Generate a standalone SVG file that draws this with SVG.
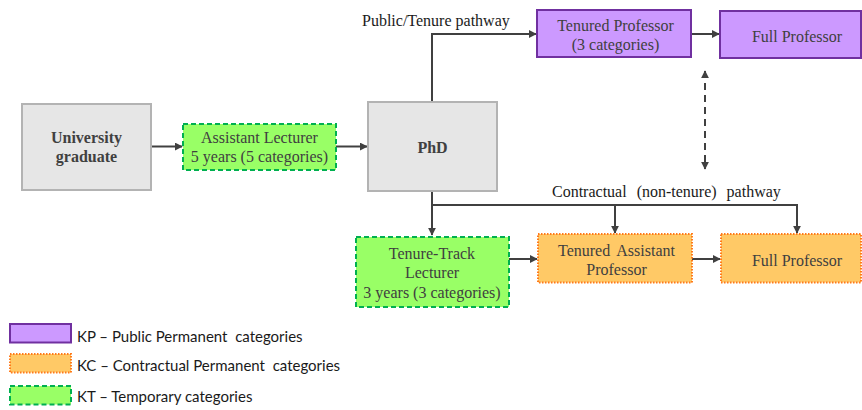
<svg xmlns="http://www.w3.org/2000/svg" width="862" height="410" viewBox="0 0 862 410">
<defs>
<style>
.t{font-family:"Liberation Serif","Times New Roman",serif;font-size:16px;fill:#404040;text-anchor:middle;dominant-baseline:central}
.b{font-weight:bold}
.lbl{font-family:"Liberation Serif","Times New Roman",serif;font-size:16px;fill:#1a1a1a;dominant-baseline:central}
.lg{font-family:Lato,"Open Sans",sans-serif;font-size:15px;fill:#1a1a1a;dominant-baseline:central;white-space:pre}
.grey{fill:#e6e6e6;stroke:#b3b3b3;stroke-width:2}
.kp{fill:#cc99ff;stroke:#7030a0;stroke-width:2}
.kc{fill:#ffc966;stroke:#ff7a1a;stroke-width:2;stroke-dasharray:1.5 1.5}
.kt{fill:#99ff66;stroke:#00b050;stroke-width:2;stroke-dasharray:5 3}
.c{fill:none;stroke:#404040;stroke-width:2}
.d{fill:none;stroke:#404040;stroke-width:2;stroke-dasharray:7 5}
</style>
<marker id="ah" viewBox="0 0 10 10" refX="9" refY="5" markerWidth="4" markerHeight="4" orient="auto-start-reverse" markerUnits="strokeWidth">
<path d="M0,0 L10,5 L0,10 z" fill="#404040"/>
</marker>
</defs>

<g id="connectors">
<line class="c" x1="151" y1="146.5" x2="182" y2="146.5" marker-end="url(#ah)"/>
<line class="c" x1="336" y1="146.5" x2="367" y2="146.5" marker-end="url(#ah)"/>
<polyline class="c" points="432,102 432,34 536,34" marker-end="url(#ah)"/>
<line class="c" x1="691" y1="34" x2="719" y2="34" marker-end="url(#ah)"/>
<line class="d" x1="705" y1="71" x2="705" y2="169" marker-start="url(#ah)" marker-end="url(#ah)"/>
<line class="c" x1="432" y1="191" x2="432" y2="235" marker-end="url(#ah)"/>
<polyline class="c" points="432,205 797,205 797,233" marker-end="url(#ah)"/>
<line class="c" x1="615" y1="205" x2="615" y2="233" marker-end="url(#ah)"/>
<line class="c" x1="509" y1="259" x2="537" y2="259" marker-end="url(#ah)"/>
<line class="c" x1="692" y1="259" x2="720" y2="259" marker-end="url(#ah)"/>
</g>

<g id="label-public">
<text class="lbl" x="362" y="20">Public/Tenure pathway</text>
</g>
<g id="label-contractual">
<text class="lbl" x="552" y="191" word-spacing="6">Contractual (non-tenure) pathway</text>
</g>

<g id="university-graduate">
<rect class="grey" x="22" y="104" width="129" height="86"/>
<text class="t b" x="86.5" y="137.5">University</text>
<text class="t b" x="86.5" y="156.5">graduate</text>
</g>

<g id="assistant-lecturer">
<rect class="kt" x="183" y="124" width="153" height="46"/>
<text class="t" x="259.5" y="137.5">Assistant Lecturer</text>
<text class="t" x="259.5" y="156.5">5 years (5 categories)</text>
</g>

<g id="phd">
<rect class="grey" x="368" y="102" width="129" height="89"/>
<text class="t b" x="432.5" y="147">PhD</text>
</g>

<g id="tenured-professor">
<rect class="kp" x="537" y="10" width="154" height="47"/>
<text class="t" x="615.5" y="25">Tenured Professor</text>
<text class="t" x="615.5" y="44">(3 categories)</text>
</g>

<g id="full-professor-kp">
<rect class="kp" x="720" y="11" width="141" height="47"/>
<text class="t" x="797" y="36">Full Professor</text>
</g>

<g id="tenure-track-lecturer">
<rect class="kt" x="356" y="237" width="153" height="70"/>
<text class="t" x="432" y="253">Tenure-Track</text>
<text class="t" x="432" y="272">Lecturer</text>
<text class="t" x="432" y="292">3 years (3 categories)</text>
</g>

<g id="tenured-assistant-professor">
<rect class="kc" x="538" y="234" width="154" height="48.5"/>
<text class="t" x="616.5" y="250" word-spacing="3">Tenured Assistant</text>
<text class="t" x="616.5" y="269">Professor</text>
</g>

<g id="full-professor-kc">
<rect class="kc" x="721" y="234" width="140" height="48.5"/>
<text class="t" x="797" y="260">Full Professor</text>
</g>

<g id="legend">
<rect class="kp" x="10" y="324" width="61" height="18.5"/>
<text class="lg" x="77" y="336">KP – Public Permanent  categories</text>
<rect class="kc" x="10" y="354" width="61" height="18.5"/>
<text class="lg" x="77" y="365">KC – Contractual Permanent  categories</text>
<rect class="kt" x="10" y="386" width="61" height="18.5"/>
<text class="lg" x="77" y="396">KT – Temporary categories</text>
</g>
</svg>
